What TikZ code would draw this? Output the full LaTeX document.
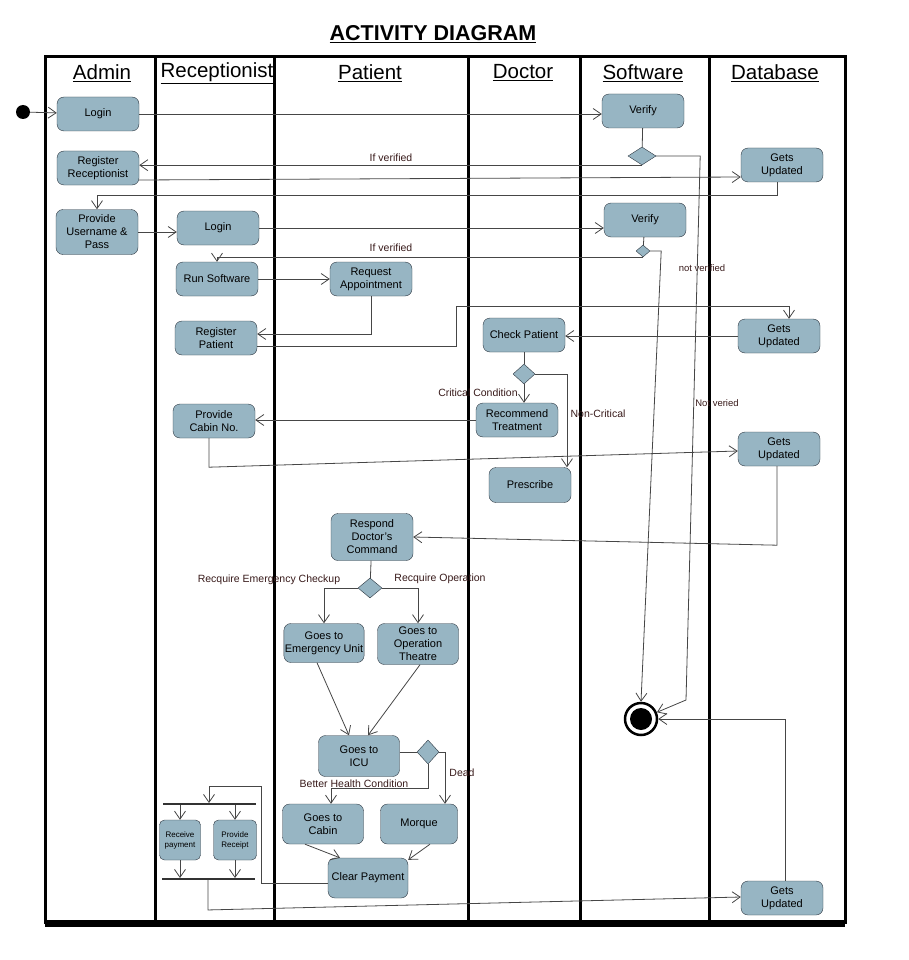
\documentclass[tikz,border=0pt]{standalone}
\usepackage{fontspec}
\setmainfont{Liberation Sans}
\usetikzlibrary{positioning,arrows.meta,shapes.geometric,calc}
\definecolor{boxblue}{RGB}{151,181,195}
\definecolor{boxline}{RGB}{45,55,65}
\definecolor{lineg}{RGB}{70,70,70}
\definecolor{labtext}{RGB}{55,25,25}
\tikzset{
  box/.style  = {rectangle, draw=boxline, rounded corners=7pt,
                 fill=boxblue, align=center,
                 minimum width=82pt, minimum height=34pt, inner sep=1pt,
                 font=\fontsize{11}{13}\selectfont},
  small/.style = {box, minimum width=42pt, minimum height=40pt,
                  rounded corners=5pt, font=\fontsize{8}{10}\selectfont},
  dec/.style  = {diamond, draw=boxline, fill=boxblue, inner sep=0pt,
                 minimum width=28pt, minimum height=18pt},
  arr/.style  = {-{Straight Barb[length=8pt,width=11pt]}, draw=lineg, line width=0.8pt},
  conn/.style = {draw=lineg, line width=0.8pt},
  lab/.style  = {font=\fontsize{10.5}{12}\selectfont, text=labtext, inner sep=0pt},
  tiny/.style = {lab, font=\fontsize{9.5}{11}\selectfont},
  lane/.style = {line width=3pt},
  head/.style = {font=\fontsize{20.5}{24}\selectfont, inner sep=0pt},
  bar/.style  = {fill=black!80, inner sep=0pt, minimum width=93pt, minimum height=1.5pt},
  initnode/.style = {circle, fill=black, minimum size=14pt, inner sep=0pt},
  endnode/.style  = {circle, draw, line width=2.5pt, fill=white, minimum size=32pt,
                     inner sep=0pt,
                     path picture={\fill[black] (path picture bounding box.center) circle (11pt);}}
}
\begin{document}
\begin{tikzpicture}[x=1pt,y=-1pt]
  \useasboundingbox (0,0) rectangle (909,960);

  % swim lanes
  \draw[lane] (45,57) rectangle (845,922);
  \draw[lane] (155,57) -- (155,922);
  \draw[lane] (274,57) -- (274,922);
  \draw[lane] (468,57) -- (468,922);
  \draw[lane] (580,57) -- (580,922);
  \draw[lane] (709,57) -- (709,922);
  \fill (45,920) rectangle (845,927);

  \node[font=\bfseries\fontsize{21.5}{24}\selectfont] (title) at (433,34) {\underline{ACTIVITY DIAGRAM}};
  \node[head] (hAdmin)    at (102,73) {\underline{Admin}};
  \node[head] (hRecep)    at (217,73) {\underline{Receptionist}};
  \node[head] (hPatient)  at (370,73) {\underline{Patient}};
  \node[head] (hDoctor)   at (523,73) {\underline{Doctor}};
  \node[head] (hSoftware) at (643,73) {\underline{Software}};
  \node[head] (hDatabase) at (775,73) {\underline{Database}};

  % activities
  \node[initnode] (init) at (23,112) {};
  \node[box] (alogin)   at (98,114)  {Login};
  \node[box] (verify1)  at (643,111) {Verify};
  \node[dec] (dec1)     at (642,156) {};
  \node[box] (regrec)   at (98,168)  {Register\\Receptionist};
  \node[box] (upd1)     at (782,165) {Gets\\Updated};
  \node[box,minimum height=45pt] (provuser) at (97,232) {Provide\\Username \&\\Pass};
  \node[box] (rlogin)   at (218,228) {Login};
  \node[box] (verify2)  at (645,220) {Verify};
  \node[dec,minimum width=14pt,minimum height=12pt] (dec2) at (643,251) {};
  \node[box] (runsw)    at (217,279) {Run Software};
  \node[box] (reqapp)   at (371,279) {Request\\Appointment};
  \node[box] (regpat)   at (216,338) {Register\\Patient};
  \node[box] (check)    at (524,335) {Check Patient};
  \node[box] (upd2)     at (779,336) {Gets\\Updated};
  \node[dec,minimum width=22pt,minimum height=20pt] (dec3) at (524,374) {};
  \node[box] (recom)    at (517,420) {Recommend\\Treatment};
  \node[box] (cabinno)  at (214,421) {Provide\\Cabin No.};
  \node[box] (upd3)     at (779,449) {Gets\\Updated};
  \node[box,minimum height=35pt] (prescribe) at (530,485) {Prescribe};
  \node[box,minimum height=47pt] (respond) at (372,537) {Respond\\Doctor's\\Command};
  \node[dec,minimum width=24pt,minimum height=20pt] (dec4) at (370,588) {};
  \node[box,minimum width=79pt,minimum height=39pt] (emerg) at (324,643) {Goes to\\Emergency Unit};
  \node[box,minimum width=81pt,minimum height=41pt] (optheatre) at (418,644) {Goes to\\Operation\\Theatre};
  \node[box,minimum width=81pt,minimum height=41pt] (icu) at (359,756) {Goes to\\ICU};
  \node[dec,minimum width=22pt,minimum height=24pt] (dec5) at (428,752) {};
  \node[box,minimum width=81pt,minimum height=40pt] (gocabin) at (323,824) {Goes to\\Cabin};
  \node[box,minimum width=77pt,minimum height=40pt] (morgue) at (419,824) {Morque};
  \node[box,minimum width=80pt,minimum height=40pt] (clearpay) at (368,878) {Clear Payment};
  \node[bar] (fork) at (209,804) {};
  \node[small,minimum width=41pt] (recvpay) at (180,840) {Receive\\payment};
  \node[small,minimum width=43pt] (provrec) at (235,840) {Provide\\Receipt};
  \node[bar] (join) at (208,879) {};
  \node[endnode] (final) at (641,719) {};
  \node[box] (upd4)     at (782,898) {Gets\\Updated};

  % guards
  \node[lab]  (gv1)   at (391,158) {If verified};
  \node[lab]  (gv2)   at (391,248) {If verified};
  \node[tiny] (gnv1)  at (702,268) {not verified};
  \node[tiny] (gnv2)  at (717,403) {Not veried};
  \node[lab]  (gcrit) at (478,393) {Critical Condition};
  \node[lab]  (gnon)  at (598,414) {Non-Critical};
  \node[lab]  (gemg)  at (269,580) {Recquire Emergency Checkup};
  \node[lab]  (gop)   at (440,579) {Recquire Operation};
  \node[lab]  (gbet)  at (354,784) {Better Health Condition};
  \node[lab]  (gdead) at (462,773) {Dead};

  % flows
  \draw[arr] (init) -- (alogin);
  \draw[arr] (alogin) -- (alogin -| verify1.west);
  \draw[conn] (verify1) -- (dec1);
  \draw[arr] (dec1.south) -- (dec1.south -| regrec.east);
  \draw[arr] ($(regrec.east)+(0,12)$) -- ($(upd1.west)+(0,12)$);
  \draw[arr] ($(upd1.south)+(-5,0)$) -- ++(0,13) -| (provuser.north);
  \draw[arr] (dec1.east) -- ++(44,0) -- (686,700) -- (final);
  \draw[arr] (dec2.east) -- ++(11,0) -- (final.north);
  \draw[arr] (provuser) -- (provuser -| rlogin.west);
  \draw[arr] (rlogin) -- (rlogin -| verify2.west);
  \draw[conn] (verify2) -- (dec2);
  \draw[arr] (dec2.south) -| (runsw.north);
  \draw[arr] (runsw) -- (reqapp);
  \draw[arr] (reqapp.south) |- ($(regpat.east)+(0,-4)$);
  \draw[arr] ($(regpat.east)+(0,8)$) -- ++(199,0) |- ($(upd2.north)+(10,-12)$) -- ($(upd2.north)+(10,0)$);
  \draw[arr] (upd2) -- (upd2 -| check.east);
  \draw[conn] (check) -- (dec3);
  \draw[arr] (dec3.south) -- (dec3.south |- recom.north);
  \draw[arr] (dec3.east) -| ($(prescribe.north)+(37,0)$);
  \draw[arr] (recom) -- (recom -| cabinno.east);
  \draw[arr] ($(cabinno.south)+(-5,0)$) -- ++(0,29) -- ($(upd3.west)+(0,2)$);
  \draw[arr] ($(upd3.south)+(-2,0)$) -- ++(0,79) -- (respond.east);
  \draw[conn] (respond) -- (dec4);
  \draw[arr] (dec4.west) -| (emerg.north);
  \draw[arr] (dec4.east) -| (optheatre.north);
  \draw[arr] ($(emerg.south)+(-7,0)$) -- ($(icu.north)+(-10,0)$);
  \draw[arr] ($(optheatre.south)+(2,0)$) -- ($(icu.north)+(9,0)$);
  \draw[conn] (icu.east |- dec5) -- (dec5.west);
  \draw[arr] (dec5.south) -- ++(0,24) -| ($(gocabin.north)+(8,0)$);
  \draw[arr] (dec5.east) -| ($(morgue.north)+(26,0)$);
  \draw[arr] ($(gocabin.south)+(-18,0)$) -- ($(clearpay.north)+(-28,0)$);
  \draw[arr] ($(morgue.south)+(11,0)$) -- ($(clearpay.north east)+(0,2)$);
  \coordinate (loop) at (261,786);
  \draw[arr] ($(clearpay.west)+(0,5)$) -| (loop) -| (fork.north);
  \draw[arr] (fork.south -| recvpay) -- (recvpay.north);
  \draw[arr] (fork.south -| provrec) -- (provrec.north);
  \draw[arr] (recvpay.south) -- (recvpay.south |- join.north);
  \draw[arr] (provrec.south) -- (provrec.south |- join.north);
  \draw[arr] (join.south) -- ++(0,30) -- ($(upd4.west)+(0,-1)$);
  \draw[arr] ($(upd4.north)+(3,0)$) |- (final.east);
\end{tikzpicture}
\end{document}
